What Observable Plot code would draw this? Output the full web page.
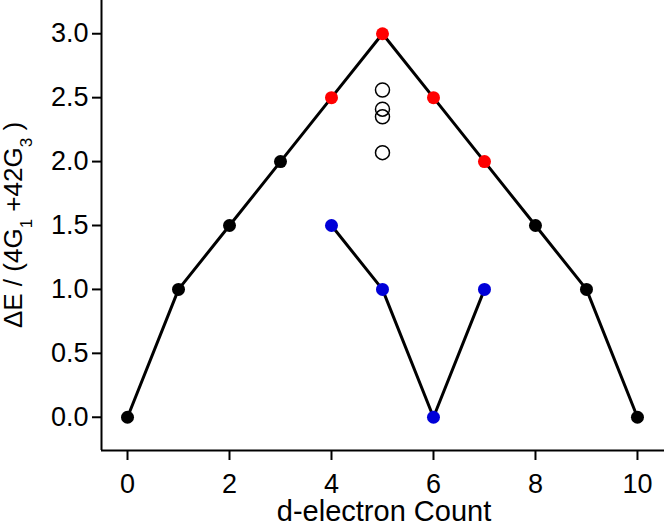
<!DOCTYPE html>
<html>
<head>
<meta charset="utf-8">
<script src="https://cdn.jsdelivr.net/npm/d3@7"></script>
<script src="https://cdn.jsdelivr.net/npm/@observablehq/plot@0.6"></script>
<style>
  html, body { margin: 0; padding: 0; background: #fff; }
  #chart svg { display: block; }
</style>
</head>
<body>
<div id="chart"></div>
<script>
// Main triangle series (d-electron count vs ΔE)
const mainX = [0, 1, 2, 3, 4, 5, 6, 7, 8, 9, 10];
const mainY = [0, 1, 1.5, 2, 2.5, 3, 2.5, 2, 1.5, 1, 0];
const mainColor = ["black", "black", "black", "black", "red", "red", "red", "red", "black", "black", "black"];

// Blue series
const blueX = [4, 5, 6, 7];
const blueY = [1.5, 1, 0, 1];

// Open circles at d5
const openX = [5, 5, 5, 5];
const openY = [2.56, 2.41, 2.35, 2.07];

// Tick labels
const xTicks = [0, 2, 4, 6, 8, 10];
const yTicks = [0, 0.5, 1, 1.5, 2, 2.5, 3];

const xDomain = [-0.51, 10.53];
const yDomain = [-0.26, 3.26];

const main = mainX.map((x, i) => ({x, y: mainY[i], c: mainColor[i]}));
const blue = blueX.map((x, i) => ({x, y: blueY[i]}));
const open = openX.map((x, i) => ({x, y: openY[i]}));

const RED = "#ff0000";
const BLUE = "#0000d8";
const FONT = "'Liberation Sans', Arial, sans-serif";

const plot = Plot.plot({
  width: 664,
  height: 524,
  marginLeft: 101,
  marginRight: 0,
  marginTop: 0,
  marginBottom: 74,
  style: {fontFamily: FONT, fontSize: "27px", color: "black", background: "white"},
  x: {domain: xDomain},
  y: {domain: yDomain},
  marks: [
    Plot.ruleX([xDomain[0]], {stroke: "black", strokeWidth: 2}),
    Plot.ruleY([yDomain[0]], {stroke: "black", strokeWidth: 2}),
    Plot.axisY({ticks: yTicks, tickFormat: d3.format(".1f"), tickSize: 9, tickPadding: 4, strokeWidth: 2, label: null, fontSize: 27}),
    Plot.axisX({ticks: xTicks, tickFormat: d3.format("d"), tickSize: 10, tickPadding: 13, strokeWidth: 2, label: null, fontSize: 27}),
    Plot.line(main, {x: "x", y: "y", stroke: "black", strokeWidth: 3}),
    Plot.line(blue, {x: "x", y: "y", stroke: "black", strokeWidth: 3}),
    Plot.dot(main, {x: "x", y: "y", r: 6.5, fill: d => d.c === "red" ? RED : "black", stroke: null}),
    Plot.dot(blue, {x: "x", y: "y", r: 6.5, fill: BLUE, stroke: null}),
    Plot.dot(open, {x: "x", y: "y", r: 7, fill: "none", stroke: "black", strokeWidth: 1.5})
  ]
});

document.getElementById("chart").appendChild(plot);

const svg = d3.select(plot);
// x-axis title
svg.append("text")
  .attr("x", 384)
  .attr("y", 521)
  .attr("text-anchor", "middle")
  .attr("font-family", FONT)
  .attr("font-size", 29)
  .attr("fill", "black")
  .text("d-electron Count");

// y-axis title with subscripts
const yl = svg.append("text")
  .attr("transform", `translate(22, ${450 / 2}) rotate(-90)`)
  .attr("text-anchor", "middle")
  .attr("font-family", FONT)
  .attr("font-size", 26)
  .attr("fill", "black");
yl.append("tspan").text("ΔE / (4G");
yl.append("tspan").attr("font-size", 17).attr("dy", 10).text("1");
yl.append("tspan").attr("dy", -10).text(" +42G");
yl.append("tspan").attr("font-size", 17).attr("dy", 10).text("3");
yl.append("tspan").attr("dy", -10).text(" )");
</script>
</body>
</html>
